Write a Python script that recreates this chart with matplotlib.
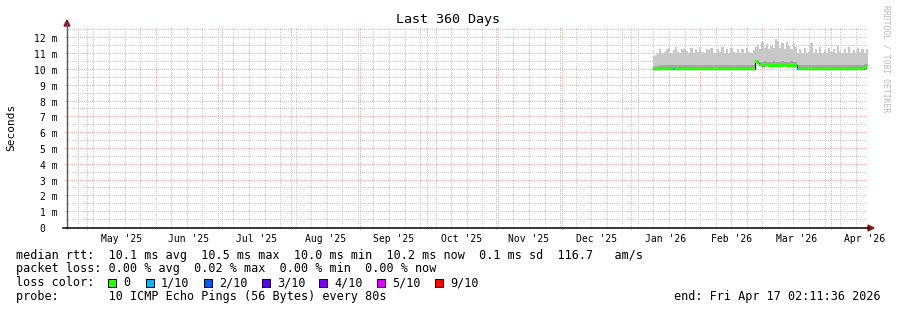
import matplotlib
matplotlib.use("Agg")
import matplotlib.pyplot as plt
import matplotlib.dates as mdates
from matplotlib.patches import Rectangle, Polygon
from matplotlib.lines import Line2D
from datetime import datetime, timedelta

# ---------------- data ----------------
title = "Last 360 Days"
end_time = datetime(2026, 4, 17, 2, 11, 36)
start_time = end_time - timedelta(days=360)
data_start = datetime(2026, 1, 10, 14, 0)   # first daily bin

# median rtt per day (ms)
median = [
    10.07, 10.06, 10.07, 10.08, 10.07, 10.06, 10.07, 10.08, 10.07, 10.06,
    10.07, 10.06, 10.07, 10.07, 10.08, 10.06, 10.07, 10.06, 10.05, 10.06,
    10.07, 10.06, 10.05, 10.06, 10.07, 10.06, 10.05, 10.06, 10.05, 10.06,
    10.07, 10.06, 10.05, 10.06, 10.07, 10.06, 10.05, 10.06, 10.05, 10.06,
    10.07, 10.06, 10.07, 10.06, 10.07, 10.08, 10.52, 10.45, 10.30, 10.25,
    10.33, 10.30, 10.28, 10.27, 10.28, 10.27, 10.28, 10.27, 10.28, 10.30,
    10.28, 10.27, 10.28, 10.27, 10.28, 10.06, 10.05, 10.06, 10.05, 10.06,
    10.05, 10.06, 10.05, 10.06, 10.07, 10.06, 10.05, 10.06, 10.05, 10.06,
    10.05, 10.06, 10.07, 10.06, 10.05, 10.06, 10.05, 10.06, 10.07, 10.06,
    10.05, 10.06, 10.07, 10.06, 10.08, 10.15, 10.18,
]
# inner (dense) smoke upper edge per day (ms)
smoke_inner = [
    10.20, 10.24, 10.27, 10.30, 10.30, 10.32, 10.30, 10.30, 10.32, 10.30,
    10.30, 10.30, 10.32, 10.30, 10.30, 10.28, 10.32, 10.30, 10.28, 10.30,
    10.32, 10.30, 10.30, 10.28, 10.32, 10.30, 10.28, 10.30, 10.32, 10.30,
    10.30, 10.28, 10.32, 10.30, 10.28, 10.30, 10.32, 10.30, 10.30, 10.28,
    10.32, 10.30, 10.30, 10.30, 10.32, 10.32, 10.65, 10.60, 10.52, 10.50,
    10.55, 10.52, 10.50, 10.52, 10.55, 10.52, 10.50, 10.52, 10.55, 10.52,
    10.50, 10.52, 10.55, 10.52, 10.50, 10.32, 10.28, 10.32, 10.30, 10.28,
    10.30, 10.32, 10.28, 10.30, 10.30, 10.32, 10.30, 10.28, 10.30, 10.32,
    10.28, 10.30, 10.28, 10.32, 10.30, 10.28, 10.30, 10.32, 10.28, 10.30,
    10.28, 10.32, 10.30, 10.28, 10.30, 10.35, 10.40,
]
# max ping per day (ms)
smoke_max = [
    10.90, 10.95, 11.05, 11.30, 11.10, 11.12, 11.35, 11.40, 11.08, 11.25,
    11.45, 11.12, 11.10, 11.30, 11.35, 11.20, 11.05, 11.40, 11.10, 11.30,
    11.12, 11.45, 11.15, 11.08, 11.35, 11.25, 11.40, 11.10, 11.05, 11.35,
    11.12, 11.45, 11.10, 11.30, 11.08, 11.40, 11.15, 11.05, 11.35, 11.10,
    11.30, 11.08, 11.40, 11.12, 11.05, 11.25, 11.45, 11.60, 11.35, 11.75,
    11.40, 11.65, 11.35, 11.50, 11.38, 11.95, 11.80, 11.40, 11.70, 11.35,
    11.75, 11.50, 11.35, 11.65, 11.45, 11.10, 11.30, 11.05, 11.40, 11.10,
    11.12, 11.70, 11.05, 11.35, 11.10, 11.45, 11.08, 11.25, 11.05, 11.40,
    11.12, 11.30, 11.08, 11.50, 11.15, 11.05, 11.35, 11.10, 11.45, 11.08,
    11.25, 11.05, 11.40, 11.12, 11.35, 11.10, 11.30,
]
# packet loss per day (index into loss colours)
loss = [
    0, 0, 0, 0, 0, 0, 0, 0, 0, 1, 0, 0, 0, 0, 0, 0, 0, 0, 0, 0,
    0, 0, 0, 0, 0, 0, 0, 0, 0, 0, 0, 0, 0, 0, 0, 0, 0, 0, 0, 0,
    0, 0, 0, 0, 0, 0, 0, 0, 0, 0, 0, 0, 0, 0, 0, 0, 0, 0, 0, 0,
    0, 0, 0, 0, 0, 1, 0, 0, 0, 0, 0, 0, 0, 0, 0, 0, 0, 0, 0, 0,
    0, 0, 0, 0, 0, 0, 0, 0, 0, 0, 0, 0, 0, 0, 0, 0, 0,
]
loss_labels = ["0", "1/10", "2/10", "3/10", "4/10", "5/10", "9/10"]
loss_colors = ["#26ff00", "#00b8ff", "#0059ff", "#5e00ff", "#7e00ff", "#dd00ff", "#ff0000"]

y_ticks = list(range(13))
y_ticklabels = ["0  "] + [f"{v} m" for v in range(1, 13)]
month_starts = [datetime(2025, m, 1) for m in range(5, 13)] + [datetime(2026, m, 1) for m in range(1, 5)] + [datetime(2026, 5, 1)]
month_labels = ["May '25", "Jun '25", "Jul '25", "Aug '25", "Sep '25", "Oct '25",
                "Nov '25", "Dec '25", "Jan '26", "Feb '26", "Mar '26", "Apr '26"]

stats_line1 = "median rtt:  10.1 ms avg  10.5 ms max  10.0 ms min  10.2 ms now  0.1 ms sd  116.7   am/s"
stats_line2 = "packet loss: 0.00 % avg  0.02 % max  0.00 % min  0.00 % now"
probe_line = "probe:       10 ICMP Echo Pings (56 Bytes) every 80s"
end_line = "end: Fri Apr 17 02:11:36 2026"

# ---------------- figure ----------------
W, H = 897, 310
MONO = "DejaVu Sans Mono"
fig = plt.figure(figsize=(W / 100, H / 100), dpi=100)
fig.patch.set_facecolor("white")

def fx(x):
    return x / W

def fy(y):
    return 1 - y / H

AX_W, AX_H = 800, 200
ax = fig.add_axes([fx(67), fy(228), AX_W / W, AX_H / H])
ax.set_facecolor("white")
x0 = mdates.date2num(start_time)
x1 = mdates.date2num(end_time)
Y1 = 12.65
ax.set_xlim(x0, x1)
ax.set_ylim(0, Y1)
for s in ax.spines.values():
    s.set_visible(False)

# grid: dotted lines drawn as single pixels every 2 px
GRAY = "#cacaca"
RED = "#f3b4b4"
px_x = (x1 - x0) / AX_W   # data units per pixel
px_y = Y1 / AX_H

def hdots(v, color, z, start_px=0):
    xs = [x0 + (k + 0.5) * px_x for k in range(start_px, AX_W, 2)]
    ax.plot(xs, [v] * len(xs), ls="none", marker=",", color=color, zorder=z, clip_on=False)

def vdots(t, color, z, extra=0):
    ys = [(k + 0.5) * px_y for k in range(-extra, AX_H, 2)]
    ax.plot([t] * len(ys), ys, ls="none", marker=",", color=color, zorder=z, clip_on=False)

for v in [i + 0.5 for i in range(13)]:
    hdots(v, GRAY, 1)
d = datetime(2025, 4, 27)
while d < end_time:
    vdots(mdates.date2num(d), GRAY, 1)
    d += timedelta(days=7)
for v in range(1, 13):
    hdots(v, RED, 2, start_px=-4)
for m in month_starts:
    if start_time < m < end_time:
        vdots(mdates.date2num(m), RED, 2, extra=2)

# data
n = len(median)
edges = [mdates.date2num(data_start + timedelta(days=i)) for i in range(n + 1)]
ext = lambda a: list(a) + [a[-1]]
ax.fill_between(edges, ext(median), ext(smoke_max), step="post", color="#c8c8c8", lw=0, zorder=3)
ax.fill_between(edges, ext(median), ext(smoke_inner), step="post", color="#a6a6a6", lw=0, zorder=4)
ax.step(edges, ext(median), where="post", color="#202020", lw=0.9, zorder=5)
bar_colors = [loss_colors[l] for l in loss]
ax.bar(edges[:-1], [0.16] * n, bottom=[m - 0.07 for m in median], width=1.0, align="edge",
       color=bar_colors, edgecolor=bar_colors, lw=0.2, zorder=6)

# ticks
ax.set_yticks(y_ticks)
ax.set_yticklabels(y_ticklabels, fontfamily=MONO, fontsize=7)
mids = [mdates.date2num(month_starts[i]) + (mdates.date2num(month_starts[i + 1]) - mdates.date2num(month_starts[i])) / 2
        for i in range(len(month_labels))]
ax.set_xticks(mids)
ax.set_xticklabels(month_labels, fontfamily=MONO, fontsize=7)
ax.tick_params(axis="both", length=0)
ax.tick_params(axis="y", pad=7)
ax.tick_params(axis="x", pad=4)

# axes lines and arrows
fig.add_artist(Line2D([fx(67), fx(67)], [fy(228), fy(24)], color="#555555", lw=1.0))
fig.add_artist(Line2D([fx(63), fx(869)], [fy(228), fy(228)], color="#000000", lw=1.1))
fig.add_artist(Polygon([(fx(67), fy(20)), (fx(64), fy(26)), (fx(70), fy(26))], closed=True, color="#8b1a1a"))
fig.add_artist(Polygon([(fx(874), fy(228)), (fx(868), fy(225)), (fx(868), fy(231))], closed=True, color="#8b1a1a"))

# texts
fig.text(fx(448), fy(19), title, ha="center", va="center", fontfamily=MONO, fontsize=9.6)
fig.text(fx(11), fy(127), "Seconds", ha="center", va="center", rotation=90, fontfamily=MONO, fontsize=8)
fig.text(fx(886), fy(5), "RRDTOOL / TOBI OETIKER", ha="center", va="top", rotation=270,
         fontfamily=MONO, fontsize=5.8, color="#b8b8b8")

fig.text(fx(16), fy(255), stats_line1, ha="left", va="center", fontfamily=MONO, fontsize=8.5)
fig.text(fx(16), fy(268.5), stats_line2, ha="left", va="center", fontfamily=MONO, fontsize=8.5)
fig.text(fx(16), fy(282.5), "loss color:", ha="left", va="center", fontfamily=MONO, fontsize=8.5)
box_x = [108, 146, 204, 262, 319, 377, 435]
for bx, lab, col in zip(box_x, loss_labels, loss_colors):
    fig.add_artist(Rectangle((fx(bx), fy(287)), 8 / W, 8 / H, facecolor=col, edgecolor="black", lw=0.7))
    fig.text(fx(bx + 15), fy(282.5), lab, ha="left", va="center", fontfamily=MONO, fontsize=8.5)
fig.text(fx(16), fy(296.5), probe_line, ha="left", va="center", fontfamily=MONO, fontsize=8.5)
fig.text(fx(881), fy(296.5), end_line, ha="right", va="center", fontfamily=MONO, fontsize=8.5)

fig.savefig("out.png", dpi=100, facecolor="white")
